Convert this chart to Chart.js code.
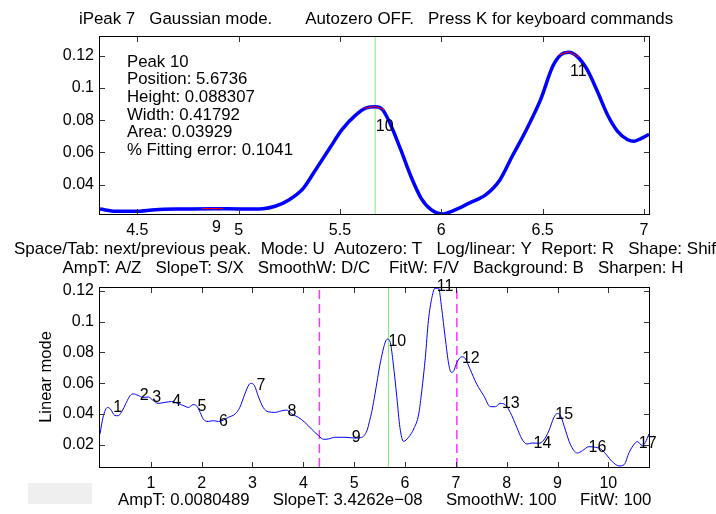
<!DOCTYPE html>
<html><head><meta charset="utf-8">
<script src="https://cdn.jsdelivr.net/npm/chart.js@4.4.1/dist/chart.umd.min.js"></script>
<style>
html,body{margin:0;padding:0;background:#fff;width:716px;height:514px;overflow:hidden;}
canvas{position:absolute;left:0;top:0;}
#btn{position:absolute;left:28px;top:483px;width:64px;height:21px;background:#efefef;}
</style></head><body>
<canvas id="c1" width="716" height="514"></canvas>
<canvas id="c2" width="716" height="514"></canvas>
<div id="btn"></div>
<script>
// ---------- DATA ----------
const titleText = "iPeak 7   Gaussian mode.       Autozero OFF.   Press K for keyboard commands";
const keysLine1 = "Space/Tab: next/previous peak.  Mode: U  Autozero: T   Log/linear: Y  Report: R   Shape: Shif";
const keysLine2 = "AmpT: A/Z   SlopeT: S/X   SmoothW: D/C    FitW: F/V   Background: B   Sharpen: H";
const statusLine = "AmpT: 0.0080489     SlopeT: 3.4262e\u221208     SmoothW: 100     FitW: 100";
const yLabelBottom = "Linear mode";
const infoLines = ["Peak 10","Position: 5.6736","Height: 0.088307","Width: 0.41792","Area: 0.03929","% Fitting error: 0.1041"];

// top (zoomed) panel
const topXRange = [4.316, 7.025];
const topYRange = [0.0218, 0.1316];
const topXTicks = [4.5, 5, 5.5, 6, 6.5, 7];
const topYTicks = [0.04, 0.06, 0.08, 0.1, 0.12];
const topX = [4.316,4.395,4.49,4.59,4.72,4.87,5.02,5.12,5.18,5.25,5.32,5.38,5.45,5.51,5.58,5.63,5.6736,5.71,5.75,5.80,5.85,5.90,5.95,6.01,6.06,6.14,6.22,6.29,6.35,6.42,6.49,6.55,6.59,6.63,6.67,6.72,6.77,6.82,6.87,6.92,6.95,6.98,7.025];
const topY = [0.0249,0.0235,0.0235,0.0245,0.0249,0.0251,0.0249,0.0251,0.0266,0.0307,0.0379,0.0493,0.0627,0.0741,0.0834,0.0876,0.0883,0.0865,0.0772,0.0617,0.0452,0.0317,0.0245,0.0218,0.0239,0.0287,0.0338,0.0431,0.0576,0.0741,0.0927,0.1134,0.1206,0.1222,0.1196,0.1113,0.0979,0.0834,0.0731,0.0679,0.0669,0.0683,0.0712];
const fitX = [4.82,4.92,null,5.62,5.6736,5.72,null,6.58,6.63,6.68];
const fitY = [0.0252,0.0252,null,0.0874,0.0885,0.0864,null,0.1205,0.1224,0.1192];
const topLabels = ["9","10","11"];
const topLabelX = [4.869, 5.677, 6.635];
const topLabelY = [0.0133, 0.076, 0.1103];

// bottom (full signal) panel
const botXRange = [0, 10.8];
const botYRange = [0.0055, 0.1218];
const botXTicks = [1,2,3,4,5,6,7,8,9,10];
const botYTicks = [0.02,0.04,0.06,0.08,0.1,0.12];
const botX = [0,0.06,0.147,0.21,0.29,0.357,0.42,0.52,0.59,0.65,0.75,0.85,0.95,1.05,1.145,1.28,1.41,1.54,1.67,1.74,1.83,1.90,1.97,2.03,2.13,2.23,2.33,2.43,2.52,2.66,2.75,2.85,2.93,2.98,3.04,3.11,3.21,3.31,3.44,3.57,3.67,3.77,3.90,4.03,4.16,4.30,4.40,4.49,4.62,4.82,5.02,5.15,5.25,5.30,5.35,5.41,5.51,5.61,5.655,5.71,5.77,5.84,5.90,5.97,6.07,6.17,6.27,6.33,6.40,6.46,6.53,6.59,6.66,6.72,6.79,6.86,6.91,6.96,7.02,7.12,7.18,7.28,7.41,7.55,7.68,7.78,7.87,7.97,8.07,8.20,8.30,8.40,8.50,8.63,8.73,8.83,8.93,9.00,9.06,9.16,9.25,9.39,9.49,9.62,9.75,9.85,9.95,10.08,10.21,10.31,10.41,10.51,10.57,10.67,10.73,10.80];
const botY = [0.027,0.0378,0.0442,0.043,0.039,0.0388,0.041,0.0475,0.0518,0.053,0.052,0.0507,0.051,0.0486,0.0468,0.0475,0.048,0.0468,0.045,0.0442,0.046,0.0453,0.041,0.0367,0.0351,0.0356,0.0351,0.036,0.0377,0.040,0.0442,0.053,0.059,0.0598,0.0583,0.0518,0.0442,0.0414,0.041,0.042,0.0425,0.040,0.0378,0.0345,0.0302,0.0258,0.0235,0.0237,0.0248,0.0248,0.0243,0.0248,0.029,0.035,0.042,0.053,0.0724,0.0865,0.0886,0.0865,0.0724,0.0507,0.0312,0.0222,0.0248,0.0302,0.0399,0.055,0.0767,0.1005,0.1157,0.1217,0.1217,0.109,0.0897,0.0724,0.067,0.068,0.0734,0.0771,0.0762,0.0691,0.0594,0.0518,0.0447,0.0447,0.0468,0.046,0.041,0.0312,0.0237,0.0204,0.0211,0.0209,0.023,0.029,0.0378,0.0403,0.0388,0.029,0.0204,0.0146,0.0161,0.0187,0.0183,0.0172,0.0139,0.0089,0.0062,0.007,0.015,0.0204,0.022,0.0194,0.0216,0.027];
const botLabels = ["1","2","3","4","5","6","7","8","9","10","11","12","13","14","15","16","17"];
const botLabelX = [0.262,0.784,1.027,1.42,1.92,2.34,3.08,3.69,4.95,5.674,6.626,7.12,7.906,8.53,8.956,9.61,10.6];
const botLabelY = [0.0438,0.0518,0.0503,0.0479,0.0449,0.0351,0.0583,0.0416,0.0247,0.0869,0.1226,0.076,0.0464,0.0205,0.0395,0.0183,0.0209];

const peakX = 5.6736;              // selected peak (green line)
const windowX = [4.316, 7.02];     // zoom window limits (magenta dashed)

// ---------- HELPERS ----------
const FONT = '"Liberation Sans", Arial, Helvetica, sans-serif';
const zip = (xs, ys) => xs.map((x, i) => (x === null ? {x: NaN, y: null} : {x: x, y: ys[i]}));
const fmt = v => String(parseFloat(Number(v).toFixed(4)));

function txt(ctx, s, x, y, align, size) {
  ctx.font = size + 'px ' + FONT;
  ctx.textAlign = align;
  ctx.textBaseline = 'middle';
  ctx.fillStyle = '#000';
  ctx.fillText(s, x, y);
}
function frame(chart) {
  const ctx = chart.ctx, a = chart.chartArea, xs = chart.scales.x, ys = chart.scales.y;
  ctx.save();
  ctx.strokeStyle = '#000';
  ctx.lineWidth = 1;
  ctx.strokeRect(a.left - 0.5, a.top - 0.5, a.right - a.left + 1, a.bottom - a.top + 1);
  ctx.strokeStyle = '#333';
  ctx.beginPath();
  xs.ticks.forEach(t => {
    const p = Math.round(xs.getPixelForValue(t.value)) + 0.5;
    ctx.moveTo(p, a.bottom); ctx.lineTo(p, a.bottom - 5);
    ctx.moveTo(p, a.top); ctx.lineTo(p, a.top + 5);
  });
  ys.ticks.forEach(t => {
    const p = Math.round(ys.getPixelForValue(t.value)) + 0.5;
    ctx.moveTo(a.left, p); ctx.lineTo(a.left + 5, p);
    ctx.moveTo(a.right, p); ctx.lineTo(a.right - 5, p);
  });
  ctx.stroke();
  ctx.restore();
}
function peakLabels(chart, labels, lx, ly) {
  const ctx = chart.ctx, xs = chart.scales.x, ys = chart.scales.y;
  labels.forEach((s, i) => txt(ctx, s, xs.getPixelForValue(lx[i]), ys.getPixelForValue(ly[i]), 'left', 16));
}
function scalesFor(xr, yr, xt, yt) {
  const tickFont = {family: FONT, size: 16};
  return {
    x: {type: 'linear', min: xr[0], max: xr[1],
        afterBuildTicks: s => { s.ticks = xt.map(v => ({value: v})); },
        afterFit: s => { s.height = 30; },
        ticks: {font: tickFont, color: '#000', padding: 7, maxRotation: 0, autoSkip: false, callback: v => fmt(v)},
        grid: {display: true, drawOnChartArea: false, drawTicks: false},
        border: {display: false}},
    y: {type: 'linear', min: yr[0], max: yr[1],
        afterBuildTicks: s => { s.ticks = yt.map(v => ({value: v})); },
        afterFit: s => { s.width = 100; },
        ticks: {font: tickFont, color: '#000', padding: 6, autoSkip: false, callback: v => fmt(v)},
        grid: {display: true, drawOnChartArea: false, drawTicks: false},
        border: {display: false}}
  };
}
const baseOpts = {
  responsive: false, animation: false, devicePixelRatio: 1,
  plugins: {legend: {display: false}, tooltip: {enabled: false}, title: {display: false}},
  elements: {point: {radius: 0}}
};

// ---------- TOP CHART ----------
new Chart(document.getElementById('c1'), {
  type: 'line',
  data: {datasets: [
    {data: zip(fitX, fitY), borderColor: '#ff0000', borderWidth: 1, spanGaps: false, order: 0},
    {data: zip(topX, topY), borderColor: '#0000ff', borderWidth: 3.5, cubicInterpolationMode: 'monotone', order: 1},
    {data: [{x: peakX, y: topYRange[0]}, {x: peakX, y: topYRange[1]}], borderColor: '#70f070', borderWidth: 1, order: 2}
  ]},
  options: Object.assign({}, baseOpts, {
    layout: {padding: {left: 0, top: 37, right: 67, bottom: 514 - 214 - 30}},
    scales: scalesFor(topXRange, topYRange, topXTicks, topYTicks)
  }),
  plugins: [{
    id: 'topDeco',
    afterDraw(chart) {
      const ctx = chart.ctx;
      frame(chart);
      peakLabels(chart, topLabels, topLabelX, topLabelY);
      infoLines.forEach((s, i) => txt(ctx, s, 127, 62 + i * 17.7, 'left', 16.8));
      txt(ctx, titleText, 376, 19, 'center', 16.9);
      txt(ctx, keysLine1, 14, 249, 'left', 17);
    }
  }]
});

// ---------- BOTTOM CHART ----------
new Chart(document.getElementById('c2'), {
  type: 'line',
  data: {datasets: [
    {data: zip(botX, botY), borderColor: '#0000ff', borderWidth: 1, cubicInterpolationMode: 'monotone', order: 1},
    {data: [{x: peakX, y: botYRange[0]}, {x: peakX, y: botYRange[1]}], borderColor: '#70f070', borderWidth: 1, order: 2},
    {data: [{x: windowX[0], y: botYRange[0]}, {x: windowX[0], y: botYRange[1]}], borderColor: '#ff33ff', borderWidth: 1.5, borderDash: [9, 5], order: 3},
    {data: [{x: windowX[1], y: botYRange[0]}, {x: windowX[1], y: botYRange[1]}], borderColor: '#ff33ff', borderWidth: 1.5, borderDash: [9, 5], order: 3}
  ]},
  options: Object.assign({}, baseOpts, {
    layout: {padding: {left: 0, top: 288, right: 67, bottom: 514 - 467 - 30}},
    scales: scalesFor(botXRange, botYRange, botXTicks, botYTicks)
  }),
  plugins: [{
    id: 'botDeco',
    afterDraw(chart) {
      const ctx = chart.ctx;
      frame(chart);
      peakLabels(chart, botLabels, botLabelX, botLabelY);
      txt(ctx, keysLine2, 373, 268, 'center', 16.9);
      txt(ctx, statusLine, 118, 500, 'left', 16.8);
      ctx.save();
      ctx.translate(46, 377);
      ctx.rotate(-Math.PI / 2);
      txt(ctx, yLabelBottom, 0, 0, 'center', 16.5);
      ctx.restore();
    }
  }]
});
</script>
</body></html>
